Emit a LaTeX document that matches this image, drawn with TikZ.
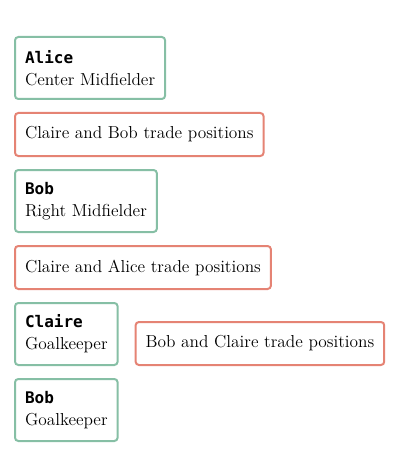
\documentclass[tikz,border=0pt]{standalone}
\usepackage{fontspec}
\newfontfamily\namefont{DejaVu Sans Mono}
\usetikzlibrary{positioning}

\definecolor{keepgreen}{HTML}{86BFA5}
\definecolor{swapred}{HTML}{E58374}

\tikzset{
  card/.style={draw, line width=1.5pt, rounded corners=2.5pt, fill=white,
    inner xsep=7.5pt, align=left, font=\fontsize{13}{16.5}\selectfont},
  player/.style={card, draw=keepgreen, minimum height=46.5pt},
  swap/.style={card, draw=swapred, minimum height=32.25pt},
}
\newcommand{\who}[1]{{\namefont\fontsize{12}{16.5}\selectfont\bfseries #1}}

\begin{document}
\begin{tikzpicture}[x=0.75pt, y=-0.75pt, node distance=9pt]
  \useasboundingbox (0,0) rectangle (400,456);

  % players and the swaps between them, top to bottom
  \node[player, anchor=north west] (alice) at (14,36) {\who{Alice}\\Center Midfielder};
  \node[swap, below=of alice.south west, anchor=north west] (swapcb) {Claire and Bob trade positions};
  \node[player, below=of swapcb.south west, anchor=north west] (bobrm) {\who{Bob}\\Right Midfielder};
  \node[swap, below=of bobrm.south west, anchor=north west] (swapca) {Claire and Alice trade positions};
  \node[player, below=of swapca.south west, anchor=north west] (clairegk) {\who{Claire}\\Goalkeeper};
  \node[swap, right=12pt of clairegk.south east, anchor=south west] (swapbc) {Bob and Claire trade positions};
  \node[player, below=of clairegk.south west, anchor=north west] (bobgk) {\who{Bob}\\Goalkeeper};
\end{tikzpicture}
\end{document}
